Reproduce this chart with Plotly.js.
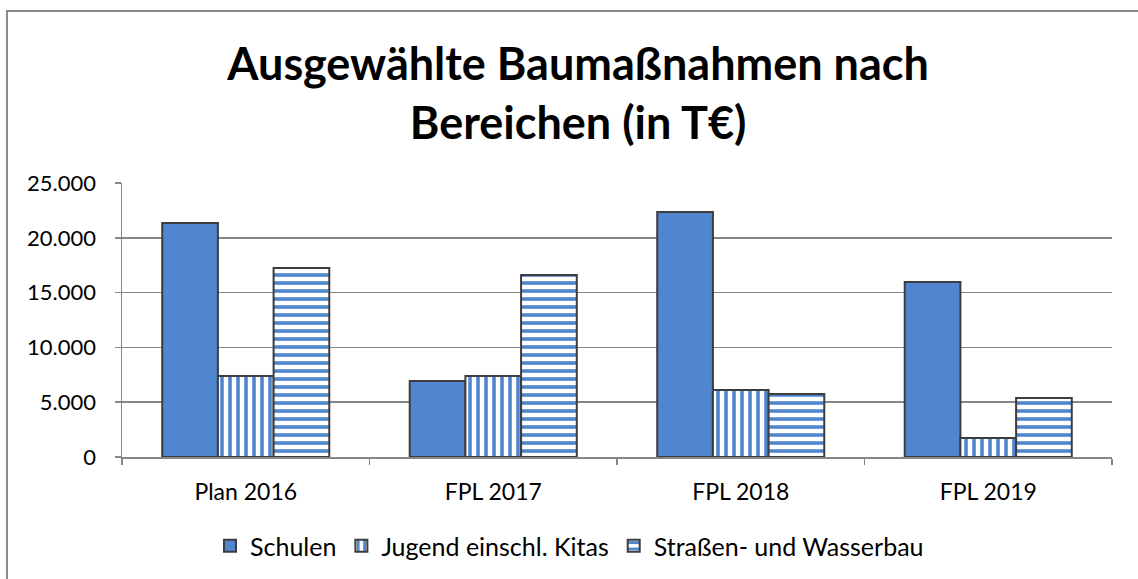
<!DOCTYPE html>
<html><head><meta charset="utf-8">
<script src="https://cdn.plot.ly/plotly-3.0.1.min.js"></script>
<style>html,body{margin:0;padding:0;background:#fff}#chart{width:1138px;height:579px}</style>
</head><body><div id="chart"></div>
<script>
const categories = ['Plan 2016', 'FPL 2017', 'FPL 2018', 'FPL 2019'];
const schulen = [21350, 6930, 22350, 15970];
const jugend = [7390, 7390, 6110, 1730];
const strassen = [17250, 16600, 5750, 5380];
const seriesNames = ['Schulen', 'Jugend einschl. Kitas', 'Straßen- und Wasserbau'];
const yTicks = [0, 5000, 10000, 15000, 20000, 25000];

const blue = '#4F86CF';
const edge = '#3d3d3d';
const FONT = 'Lato, "Open Sans", sans-serif';

const traces = [
  {type:'bar', name:seriesNames[0], x:categories, y:schulen,
   marker:{color:blue, line:{color:edge, width:2}}},
  {type:'bar', name:seriesNames[1], x:categories, y:jugend,
   marker:{color:'white', line:{color:edge, width:2},
     pattern:{shape:'|', fgcolor:blue, bgcolor:'white', size:8, solidity:0.45}}},
  {type:'bar', name:seriesNames[2], x:categories, y:strassen,
   marker:{color:'white', line:{color:edge, width:2},
     pattern:{shape:'-', fgcolor:blue, bgcolor:'white', size:8, solidity:0.45}}}
];

const L = 122, R = 26, T = 183, B = 122, W = 1138, H = 579;
const pw = W - L - R, ph = H - T - B;

const layout = {
  width: W, height: H,
  margin: {l:L, r:R, t:T, b:B, pad:0, autoexpand:false},
  paper_bgcolor:'white', plot_bgcolor:'white',
  separators: ',.',
  font: {family: FONT, size: 22, color:'#000'},
  title: {text:'<b>Ausgewählte Baumaßnahmen nach<br>Bereichen (in T€)</b>',
    font:{family: FONT, size:45, color:'#000'},
    x:0.508, xanchor:'center', y:1-80/579, yanchor:'middle'},
  barmode:'group', bargap:0.325, bargroupgap:0,
  xaxis: {type:'category', showgrid:false, showline:true, linecolor:'#868686', linewidth:1.5,
    ticks:'outside', tickson:'boundaries', ticklen:6, tickcolor:'#868686', tickwidth:1.5,
    tickfont:{family:FONT, size:23}, automargin:false, ticklabelstandoff:14},
  yaxis: {range:[0,25000], tickvals:yTicks, tickformat:',d', showgrid:true, gridcolor:'#868686', gridwidth:1.5,
    showline:true, linecolor:'#868686', linewidth:1.5, ticks:'outside', ticklen:6, tickcolor:'#868686', tickwidth:1.5,
    tickfont:{family:FONT, size:22}, zeroline:false, automargin:false, ticklabelstandoff:14},
  legend: {orientation:'h', x:(210-L)/pw, xanchor:'left', yref:'container', y:1-546/H, yanchor:'middle',
    font:{family:FONT, size:25}, itemwidth:30, traceorder:'normal'},
  shapes: [{type:'rect', xref:'paper', yref:'paper',
    x0:(7-L)/pw, x1:(1145-L)/pw, y0:(457-590)/ph, y1:(457-11)/ph,
    line:{color:'#8c8c8c', width:2}, fillcolor:'rgba(0,0,0,0)', layer:'below'}]
};

Plotly.newPlot('chart', traces, layout, {displayModeBar:false, staticPlot:true});
</script></body></html>
